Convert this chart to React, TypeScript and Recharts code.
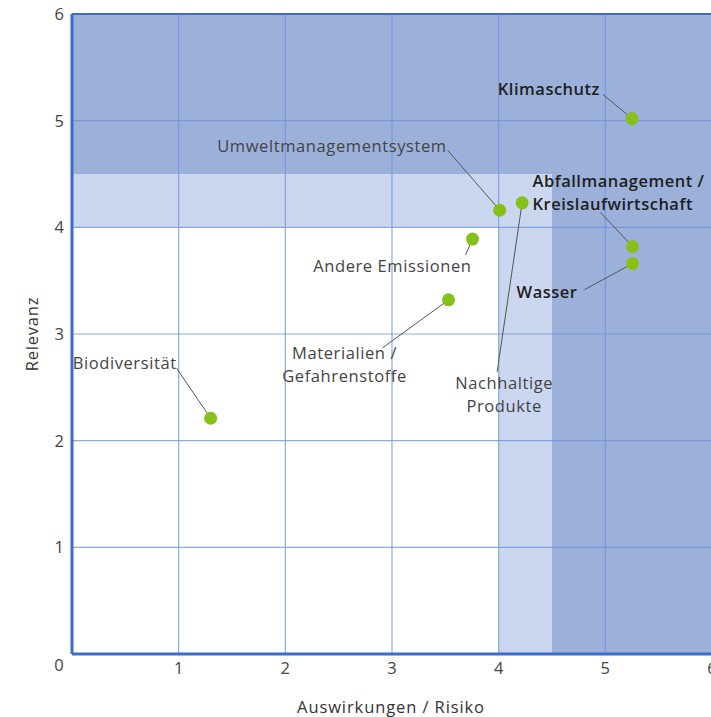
import React from 'react';
import {
  ScatterChart,
  Scatter,
  XAxis,
  YAxis,
  ReferenceArea,
  ReferenceLine,
} from 'recharts';

// topics (use \n for a line break in the label)
const topics = [
  'Klimaschutz',
  'Umweltmanagementsystem',
  'Nachhaltige\nProdukte',
  'Andere Emissionen',
  'Abfallmanagement /\nKreislaufwirtschaft',
  'Wasser',
  'Materialien /\nGefahrenstoffe',
  'Biodiversität',
];
const impact = [5.25, 4.01, 4.22, 3.755, 5.255, 5.255, 3.53, 1.3];
const relevance = [5.02, 4.16, 4.23, 3.89, 3.82, 3.66, 3.32, 2.21];
const highlighted = ['Klimaschutz', 'Abfallmanagement /\nKreislaufwirtschaft', 'Wasser'];

const xTicks = [0, 1, 2, 3, 4, 5, 6];
const yTicks = [1, 2, 3, 4, 5, 6];
const gridValues = [1, 2, 3, 4, 5];

// shaded zones [x1, x2, y1, y2]
const darkZones = [
  [0, 6, 4.5, 6],
  [4.5, 6, 0, 4.5],
];
const lightZones = [
  [0, 4.5, 4, 4.5],
  [4, 4.5, 0, 4],
];

const DARK = '#9cb1da';
const LIGHT = '#cbd7ee';
const GRID = '#6f95dc';
const FRAME = '#3d6cc9';
const DOT = '#86c11a';
const FONT = '"Open Sans", sans-serif';

// label placement relative to the dot (pixels): line start + text anchor point
const labelLayout: Record<string, { lx: number; ly: number; tx: number; ty: number; anchor: 'start' | 'middle' | 'end' }> = {
  'Klimaschutz': { lx: -29, ly: -24, tx: -32, ty: -30, anchor: 'end' },
  'Umweltmanagementsystem': { lx: -52, ly: -60, tx: -53, ty: -65, anchor: 'end' },
  'Nachhaltige\nProdukte': { lx: -25, ly: 169, tx: -18, ty: 180, anchor: 'middle' },
  'Andere Emissionen': { lx: -7, ly: 16, tx: -1, ty: 26, anchor: 'end' },
  'Abfallmanagement /\nKreislaufwirtschaft': { lx: -32, ly: -34, tx: -100, ty: -66, anchor: 'start' },
  'Wasser': { lx: -48, ly: 26, tx: -116, ty: 28, anchor: 'start' },
  'Materialien /\nGefahrenstoffe': { lx: -66, ly: 48, tx: -104, ty: 53, anchor: 'middle' },
  'Biodiversität': { lx: -34, ly: -50, tx: -138, ty: -56, anchor: 'start' },
};

const data = topics.map((name, i) => ({ name, x: impact[i], y: relevance[i] }));

const TopicDot = (props: any) => {
  const { cx, cy, payload } = props;
  const l = labelLayout[payload.name];
  const bold = highlighted.includes(payload.name);
  const lines = payload.name.split('\n');
  return (
    <g>
      <line x1={cx + l.lx} y1={cy + l.ly} x2={cx} y2={cy} stroke="#555" strokeWidth={1} />
      <circle cx={cx} cy={cy} r={6.5} fill={DOT} />
      {lines.map((t: string, k: number) => (
        <text
          key={k}
          x={cx + l.tx}
          y={cy + l.ty + k * 22.5}
          textAnchor={l.anchor}
          dominantBaseline="central"
          fontFamily={FONT}
          fontSize={16.5}
          letterSpacing={bold ? 0.5 : 0.6}
          fontWeight={bold ? 600 : 400}
          fill={bold ? '#1e1e1e' : '#444'}
        >
          {t}
        </text>
      ))}
    </g>
  );
};

const XTick = (props: any) => {
  const { x, y, payload } = props;
  const shift = payload.value === 0 ? -13 : 0;
  const lift = payload.value === 0 ? -3 : 0;
  return (
    <text x={x + shift} y={y - 2 + lift} textAnchor="middle" dominantBaseline="hanging" fontFamily={FONT} fontSize={16.5} fill="#444">
      {payload.value}
    </text>
  );
};

const YLabel = (props: any) => {
  const { viewBox } = props;
  const cx = viewBox.x + 31;
  const cy = viewBox.y + viewBox.height / 2;
  return (
    <text x={cx} y={cy} transform={`rotate(-90 ${cx} ${cy})`} textAnchor="middle" dominantBaseline="central" fontFamily={FONT} fontSize={16.5} letterSpacing={0.8} fill="#333">
      Relevanz
    </text>
  );
};

const XLabel = (props: any) => {
  const { viewBox } = props;
  const cx = viewBox.x + viewBox.width / 2;
  return (
    <text x={cx - 1} y={706} textAnchor="middle" dominantBaseline="central" fontFamily={FONT} fontSize={16.5} letterSpacing={0.9} fill="#333">
      Auswirkungen / Risiko
    </text>
  );
};

export default function App() {
  return (
    <div style={{ position: 'absolute', left: 0, top: 0, width: 711, height: 717, overflow: 'hidden', background: '#fff' }}>
      <ScatterChart width={740} height={717} margin={{ top: 14, right: 28, bottom: 0, left: 0 }}>
        <XAxis
          type="number"
          dataKey="x"
          domain={[0, 6]}
          ticks={xTicks}
          tickLine={false}
          axisLine={false}
          height={63}
          tick={<XTick />}
          label={<XLabel />}
        />
        <YAxis
          type="number"
          dataKey="y"
          domain={[0, 6]}
          ticks={yTicks}
          tickLine={false}
          axisLine={false}
          width={72}
          tick={{ fontFamily: FONT, fontSize: 16.5, fill: '#444' }}
          label={<YLabel />}
        />
        {darkZones.map(([x1, x2, y1, y2], i) => (
          <ReferenceArea key={`d${i}`} x1={x1} x2={x2} y1={y1} y2={y2} fill={DARK} fillOpacity={1} stroke="none" />
        ))}
        {lightZones.map(([x1, x2, y1, y2], i) => (
          <ReferenceArea key={`l${i}`} x1={x1} x2={x2} y1={y1} y2={y2} fill={LIGHT} fillOpacity={1} stroke="none" />
        ))}
        {gridValues.map((v) => (
          <ReferenceLine key={`gx${v}`} x={v} stroke={GRID} strokeOpacity={0.8} strokeWidth={1.2} />
        ))}
        {gridValues.map((v) => (
          <ReferenceLine key={`gy${v}`} y={v} stroke={GRID} strokeOpacity={0.8} strokeWidth={1.2} />
        ))}
        <ReferenceLine x={0} stroke={FRAME} strokeWidth={3} />
        <ReferenceLine y={0} stroke={FRAME} strokeWidth={3} />
        <ReferenceLine y={6} stroke={FRAME} strokeWidth={2} />
        <ReferenceLine x={6} stroke={FRAME} strokeWidth={2} />
        <Scatter data={data} shape={<TopicDot />} isAnimationActive={false} />
      </ScatterChart>
    </div>
  );
}
